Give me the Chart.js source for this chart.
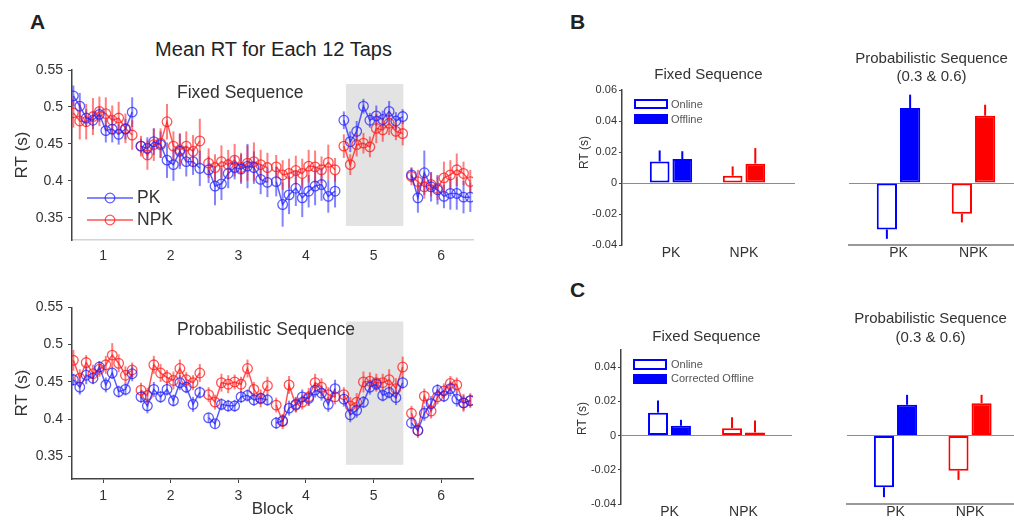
<!DOCTYPE html>
<html>
<head>
<meta charset="utf-8">
<script src="https://cdn.jsdelivr.net/npm/chart.js@4.4.1/dist/chart.umd.min.js"></script>
<style>
  body { margin: 0; background: #fff; }
  #fig { position: relative; width: 1014px; height: 522px; overflow: hidden; background: #fff;
         font-family: "Liberation Sans", Arial, Helvetica, sans-serif; color: #222; }
  .box, .lbl { position: absolute; }
  .panel { font-weight: bold; font-size: 21px; line-height: 24px; }
</style>
</head>
<body>
<div id="fig">
  <div class="lbl panel" style="left:30px;top:10px">A</div>
  <div class="lbl panel" style="left:570px;top:10px">B</div>
  <div class="lbl panel" style="left:570px;top:278px">C</div>
  <div class="lbl" style="left:0;width:547px;top:37px;text-align:center;font-size:20px;line-height:24px;color:#222">Mean RT for Each 12 Taps</div>

  <div class="box" style="left:0;top:55px;width:490px;height:220px"><canvas id="fixedLine"></canvas></div>
  <div class="box" style="left:0;top:290px;width:490px;height:232px"><canvas id="probLine"></canvas></div>
  <div class="box" style="left:560px;top:40px;width:245px;height:225px"><canvas id="fixedBarB"></canvas></div>
  <div class="box" style="left:840px;top:40px;width:174px;height:225px"><canvas id="probBarB"></canvas></div>
  <div class="box" style="left:560px;top:300px;width:245px;height:222px"><canvas id="fixedBarC"></canvas></div>
  <div class="box" style="left:840px;top:300px;width:174px;height:222px"><canvas id="probBarC"></canvas></div>
</div>
<script>
/* Mean RT per 12 taps across blocks, plus online/offline gain bars */

Chart.defaults.font.family = '"Liberation Sans", Arial, Helvetica, sans-serif';
Chart.defaults.color = '#333';
Chart.defaults.animation = false;

const blocks = [1, 2, 3, 4, 5, 6];
const tapOffsets = [-0.44, -0.345, -0.25, -0.15, -0.055, 0.04, 0.135, 0.23, 0.33, 0.43];
const rtTicks = [0.35, 0.4, 0.45, 0.5, 0.55];

// fixed sequence, 10 bins per block
const fixedPK = [
  0.515, 0.501, 0.485, 0.482, 0.490, 0.468, 0.470, 0.463, 0.470, 0.493,
  0.447, 0.444, 0.453, 0.449, 0.428, 0.422, 0.440, 0.426, 0.426, 0.417,
  0.415, 0.393, 0.396, 0.410, 0.418, 0.416, 0.420, 0.418, 0.402, 0.398,
  0.399, 0.368, 0.381, 0.390, 0.377, 0.386, 0.393, 0.395, 0.379, 0.386,
  0.482, 0.453, 0.467, 0.501, 0.482, 0.488, 0.483, 0.494, 0.481, 0.487,
  0.408, 0.377, 0.411, 0.392, 0.388, 0.379, 0.383, 0.383, 0.378, 0.378
];
const fixedPKErr = [
  0.014, 0.018, 0.012, 0.012, 0.010, 0.016, 0.018, 0.014, 0.014, 0.020,
  0.010, 0.015, 0.018, 0.018, 0.024, 0.022, 0.024, 0.020, 0.018, 0.024,
  0.018, 0.026, 0.022, 0.020, 0.016, 0.020, 0.030, 0.022, 0.020, 0.020,
  0.020, 0.030, 0.026, 0.024, 0.026, 0.022, 0.026, 0.022, 0.022, 0.022,
  0.012, 0.014, 0.014, 0.010, 0.010, 0.014, 0.012, 0.014, 0.012, 0.010,
  0.010, 0.020, 0.030, 0.020, 0.020, 0.016, 0.022, 0.022, 0.022, 0.020
];
const fixedNPK = [
  0.492, 0.481, 0.480, 0.487, 0.494, 0.491, 0.482, 0.485, 0.471, 0.462,
  0.447, 0.435, 0.449, 0.451, 0.480, 0.447, 0.442, 0.447, 0.440, 0.454,
  0.424, 0.418, 0.426, 0.422, 0.428, 0.418, 0.424, 0.426, 0.422, 0.418,
  0.419, 0.408, 0.410, 0.414, 0.410, 0.420, 0.419, 0.415, 0.425, 0.415,
  0.447, 0.422, 0.449, 0.451, 0.446, 0.471, 0.469, 0.478, 0.467, 0.464,
  0.406, 0.399, 0.392, 0.395, 0.390, 0.404, 0.408, 0.415, 0.410, 0.399
];
const fixedNPKErr = [
  0.020, 0.025, 0.024, 0.025, 0.020, 0.022, 0.020, 0.022, 0.020, 0.020,
  0.014, 0.020, 0.022, 0.020, 0.024, 0.020, 0.022, 0.020, 0.022, 0.030,
  0.020, 0.018, 0.022, 0.020, 0.022, 0.020, 0.024, 0.026, 0.020, 0.020,
  0.016, 0.020, 0.020, 0.020, 0.020, 0.022, 0.022, 0.018, 0.024, 0.016,
  0.016, 0.014, 0.016, 0.014, 0.014, 0.020, 0.016, 0.016, 0.012, 0.016,
  0.012, 0.016, 0.016, 0.016, 0.016, 0.022, 0.020, 0.022, 0.016, 0.016
];

// probabilistic sequence
const probPK = [
  0.453, 0.443, 0.459, 0.455, 0.470, 0.446, 0.462, 0.437, 0.440, 0.461,
  0.430, 0.418, 0.440, 0.430, 0.440, 0.425, 0.449, 0.443, 0.420, 0.436,
  0.402, 0.394, 0.420, 0.418, 0.418, 0.430, 0.432, 0.426, 0.428, 0.426,
  0.395, 0.398, 0.415, 0.420, 0.430, 0.428, 0.439, 0.435, 0.420, 0.441,
  0.427, 0.406, 0.412, 0.423, 0.443, 0.447, 0.432, 0.436, 0.429, 0.449,
  0.395, 0.385, 0.408, 0.421, 0.439, 0.431, 0.441, 0.427, 0.422, 0.425
];
const probPKErr = [
  0.008, 0.010, 0.012, 0.008, 0.008, 0.010, 0.008, 0.008, 0.008, 0.010,
  0.008, 0.010, 0.010, 0.008, 0.008, 0.008, 0.010, 0.008, 0.010, 0.008,
  0.006, 0.006, 0.008, 0.008, 0.008, 0.008, 0.008, 0.008, 0.008, 0.008,
  0.008, 0.008, 0.010, 0.010, 0.010, 0.010, 0.010, 0.010, 0.010, 0.012,
  0.010, 0.010, 0.010, 0.008, 0.010, 0.008, 0.008, 0.008, 0.010, 0.008,
  0.008, 0.008, 0.010, 0.010, 0.008, 0.008, 0.010, 0.010, 0.010, 0.008
];
const probNPK = [
  0.479, 0.455, 0.476, 0.461, 0.467, 0.473, 0.486, 0.475, 0.459, 0.466,
  0.439, 0.432, 0.473, 0.462, 0.456, 0.452, 0.468, 0.453, 0.449, 0.462,
  0.433, 0.423, 0.449, 0.447, 0.450, 0.447, 0.468, 0.440, 0.428, 0.445,
  0.419, 0.397, 0.446, 0.419, 0.423, 0.430, 0.449, 0.443, 0.433, 0.430,
  0.433, 0.418, 0.423, 0.450, 0.451, 0.449, 0.449, 0.453, 0.441, 0.470,
  0.408, 0.385, 0.431, 0.411, 0.430, 0.438, 0.448, 0.446, 0.422, 0.425
];
const probNPKErr = [
  0.014, 0.012, 0.010, 0.012, 0.010, 0.012, 0.016, 0.012, 0.012, 0.010,
  0.010, 0.010, 0.012, 0.012, 0.010, 0.012, 0.012, 0.010, 0.010, 0.012,
  0.010, 0.010, 0.012, 0.012, 0.010, 0.010, 0.012, 0.010, 0.012, 0.012,
  0.010, 0.010, 0.012, 0.010, 0.010, 0.012, 0.012, 0.012, 0.010, 0.010,
  0.010, 0.012, 0.012, 0.014, 0.012, 0.012, 0.012, 0.014, 0.014, 0.014,
  0.010, 0.010, 0.010, 0.010, 0.010, 0.010, 0.010, 0.010, 0.012, 0.010
];

// shaded block 5 band (x in blocks, y in s)
const shadeBand = { from: 4.59, to: 5.44, lo: 0.339, hi: 0.531 };

// bar panels: [PK, NPK]
const groups = ['PK', 'NPK'];
const groupColors = ['#0000ff', '#ff0000'];
const gainTicksB = [-0.04, -0.02, 0, 0.02, 0.04, 0.06];
const gainTicksC = [-0.04, -0.02, 0, 0.02, 0.04];

const fixedOnline = [0.0139, 0.0047];
const fixedOnlineErr = [0.0071, 0.0060];
const fixedOffline = [0.0155, 0.0125];
const fixedOfflineErr = [0.0050, 0.0100];

const probOnline = [-0.0300, -0.0198];
const probOnlineErr = [0.0060, 0.0056];
const probOffline = [0.0484, 0.0434];
const probOfflineErr = [0.0086, 0.0071];

const fixedOnlineC = [0.0134, 0.0043];
const fixedOnlineErrC = [0.0071, 0.0064];
const fixedCorrected = [0.0057, 0.0018];
const fixedCorrectedErr = [0.0035, 0.0070];

const probOnlineC = [-0.0302, -0.0205];
const probOnlineErrC = [0.0058, 0.0054];
const probCorrected = [0.0180, 0.0189];
const probCorrectedErr = [0.0058, 0.0049];

const pkLine = 'rgba(30,30,255,0.72)';
const pkBar = 'rgba(30,30,255,0.55)';
const npkLine = 'rgba(255,20,20,0.72)';
const npkBar = 'rgba(255,20,20,0.55)';

function buildPoints(vals, errs) {
  const pts = [];
  blocks.forEach((b, bi) => {
    tapOffsets.forEach((off, i) => {
      const k = bi * tapOffsets.length + i;
      pts.push({ x: b + off, y: vals[k], err: errs[k] });
    });
    pts.push({ x: b + 0.5, y: null }); // break the line between blocks
  });
  return pts;
}

const shadePlugin = {
  id: 'shade',
  beforeDatasetsDraw(chart) {
    const { ctx, scales: { x, y } } = chart;
    const l = x.getPixelForValue(shadeBand.from), r = x.getPixelForValue(shadeBand.to);
    const t = y.getPixelForValue(shadeBand.hi), b = y.getPixelForValue(shadeBand.lo);
    ctx.save();
    ctx.fillStyle = '#e3e3e3';
    ctx.fillRect(l, t, r - l, b - t);
    ctx.restore();
  }
};

const pointErrPlugin = {
  id: 'pointErr',
  beforeDatasetsDraw(chart) {
    const { ctx, scales: { y } } = chart;
    chart.data.datasets.forEach((ds, di) => {
      const meta = chart.getDatasetMeta(di);
      ctx.save();
      ctx.strokeStyle = ds.errColor;
      ctx.lineWidth = 2;
      ds.data.forEach((p, i) => {
        if (p.y == null) return;
        const px = meta.data[i].x;
        ctx.beginPath();
        ctx.moveTo(px, y.getPixelForValue(p.y - p.err));
        ctx.lineTo(px, y.getPixelForValue(p.y + p.err));
        ctx.stroke();
      });
      ctx.restore();
    });
  }
};

// one-sided error whiskers from the bar end
const barErrPlugin = {
  id: 'barErr',
  afterDatasetsDraw(chart) {
    const { ctx, scales: { y } } = chart;
    chart.data.datasets.forEach((ds, di) => {
      const meta = chart.getDatasetMeta(di);
      meta.data.forEach((bar, i) => {
        const v = ds.data[i].y;
        const tip = y.getPixelForValue(v + Math.sign(v) * ds.errors[i]);
        ctx.save();
        ctx.strokeStyle = groupColors[i];
        ctx.lineWidth = 2;
        ctx.beginPath();
        ctx.moveTo(bar.x, bar.y);
        ctx.lineTo(bar.x, tip);
        ctx.stroke();
        ctx.restore();
      });
    });
  }
};

// free text, legend swatches etc. in canvas pixels
function notesPlugin(items) {
  return {
    id: 'notes',
    afterDraw(chart) {
      const ctx = chart.ctx;
      items.forEach((n) => {
        ctx.save();
        if (n.kind === 'text') {
          ctx.font = `${n.size}px "Liberation Sans", Arial, sans-serif`;
          ctx.fillStyle = n.color || '#333';
          ctx.textAlign = n.align || 'left';
          ctx.textBaseline = 'middle';
          ctx.translate(n.x, n.y);
          if (n.rotate) ctx.rotate(n.rotate);
          ctx.fillText(n.text, 0, 0);
        } else if (n.kind === 'series') {
          ctx.strokeStyle = n.color;
          ctx.lineWidth = 1.5;
          ctx.beginPath();
          ctx.moveTo(n.x, n.y);
          ctx.lineTo(n.x + 46, n.y);
          ctx.stroke();
          ctx.lineWidth = 1.3;
          ctx.beginPath();
          ctx.arc(n.x + 23, n.y, 4.8, 0, Math.PI * 2);
          ctx.stroke();
        } else if (n.kind === 'box') {
          ctx.lineWidth = 2;
          ctx.strokeStyle = n.color;
          ctx.fillStyle = n.fill;
          ctx.fillRect(n.x, n.y, n.w, n.h);
          ctx.strokeRect(n.x + 1, n.y + 1, n.w - 2, n.h - 2);
        }
        ctx.restore();
      });
    }
  };
}

function series(label, vals, errs, line, err) {
  return {
    label,
    data: buildPoints(vals, errs),
    errColor: err,
    borderColor: line,
    borderWidth: 1.5,
    pointRadius: 4.8,
    pointBorderWidth: 1.3,
    pointBorderColor: line,
    pointBackgroundColor: 'rgba(255,255,255,0)',
    spanGaps: false,
    tension: 0
  };
}

function lineChart(id, cfg) {
  return new Chart(document.getElementById(id), {
    type: 'line',
    data: {
      datasets: [
        series('PK', cfg.pk, cfg.pkErr, pkLine, pkBar),
        series('NPK', cfg.npk, cfg.npkErr, npkLine, npkBar)
      ]
    },
    options: {
      responsive: true,
      maintainAspectRatio: false,
      layout: { padding: { top: cfg.top, right: 17, left: 0, bottom: 0 } },
      plugins: { legend: { display: false }, tooltip: { enabled: false } },
      scales: {
        x: {
          type: 'linear', min: 0.54, max: 6.47,
          afterBuildTicks: (s) => { s.ticks = blocks.map((v) => ({ value: v })); },
          ticks: { font: { size: 14 }, padding: cfg.xPad, color: '#333' },
          grid: { drawOnChartArea: false, drawTicks: cfg.xTicks, tickLength: 4, color: cfg.xColor },
          border: { color: cfg.xColor, width: 1.5 },
          title: { display: !!cfg.xTitle, text: cfg.xTitle, font: { size: 17 }, color: '#333', padding: { top: 0, bottom: 2 } },
          afterFit: (s) => { s.height = cfg.xh; }
        },
        y: {
          min: 0.32, max: 0.55,
          afterBuildTicks: (s) => { s.ticks = rtTicks.map((v) => ({ value: v })); },
          ticks: { font: { size: 14 }, padding: 5, color: '#333', callback: (v) => String(v) },
          grid: { drawOnChartArea: false, tickLength: 4, color: '#444' },
          border: { color: '#444', width: 1.5 },
          title: { display: true, text: 'RT (s)', font: { size: 17 }, color: '#333', padding: { top: 12, bottom: 0 } },
          afterFit: (s) => { s.width = 72; }
        }
      }
    },
    plugins: [shadePlugin, pointErrPlugin, notesPlugin(cfg.notes)]
  });
}

function barChart(id, cfg) {
  const fixed = cfg.kind === 'fixed';
  return new Chart(document.getElementById(id), {
    type: 'bar',
    data: {
      datasets: [
        {
          label: cfg.names[0],
          data: cfg.online.map((v, i) => ({ x: i, y: v })),
          errors: cfg.onlineErr,
          backgroundColor: '#ffffff',
          borderColor: groupColors,
          borderWidth: 2,
          borderSkipped: false
        },
        {
          label: cfg.names[1],
          data: cfg.offline.map((v, i) => ({ x: i, y: v })),
          errors: cfg.offlineErr,
          backgroundColor: groupColors,
          borderColor: groupColors,
          borderWidth: 2,
          borderSkipped: false
        }
      ]
    },
    options: {
      responsive: true,
      maintainAspectRatio: false,
      categoryPercentage: 0.62,
      barPercentage: 0.87,
      layout: { padding: cfg.pad },
      plugins: {
        legend: { display: false },
        tooltip: { enabled: false },
        title: {
          display: true, text: cfg.title, fullSize: false, color: '#333',
          font: { size: 15, weight: 'normal', lineHeight: cfg.titleLH }, padding: cfg.titlePad
        }
      },
      scales: {
        x: {
          type: 'linear', min: cfg.xMin, max: cfg.xMax, offset: false,
          afterBuildTicks: (s) => { s.ticks = groups.map((g, i) => ({ value: i })); },
          ticks: { font: { size: 14 }, padding: 0, color: '#333', callback: (v) => groups[v] },
          grid: { display: false, drawTicks: false, offset: false },
          border: fixed ? { display: false } : { display: true, color: '#999', width: 2 },
          afterFit: (s) => { s.height = cfg.xh; }
        },
        y: {
          min: -0.04, max: cfg.yMax,
          afterBuildTicks: (s) => { s.ticks = cfg.yTicks.map((v) => ({ value: v })); },
          ticks: {
            display: fixed, font: { size: 11 }, padding: 2, color: '#333',
            callback: (v) => (v === 0 ? '0' : v.toFixed(2))
          },
          grid: {
            color: (c) => (c.tick && c.tick.value === 0 ? '#8c8c8c' : 'rgba(0,0,0,0)'),
            tickColor: '#444', tickLength: 3, drawTicks: fixed
          },
          border: fixed ? { color: '#444', width: 1.5 } : { display: false },
          afterFit: (s) => { s.width = cfg.yw; }
        }
      }
    },
    plugins: [barErrPlugin, notesPlugin(cfg.notes || [])]
  });
}

lineChart('fixedLine', {
  pk: fixedPK, pkErr: fixedPKErr, npk: fixedNPK, npkErr: fixedNPKErr,
  top: 15, xh: 35, xPad: 8, xTicks: false, xColor: '#d4d4d4', xTitle: '',
  notes: [
    { kind: 'text', text: 'Fixed Sequence', x: 177, y: 38, size: 17.5 },
    { kind: 'series', x: 87, y: 143, color: pkLine },
    { kind: 'text', text: 'PK', x: 137, y: 143, size: 17.5 },
    { kind: 'series', x: 87, y: 165, color: npkLine },
    { kind: 'text', text: 'NPK', x: 137, y: 165, size: 17.5 }
  ]
});

lineChart('probLine', {
  pk: probPK, pkErr: probPKErr, npk: probNPK, npkErr: probNPKErr,
  top: 17.3, xh: 43, xPad: 5, xTicks: true, xColor: '#444', xTitle: 'Block',
  notes: [
    { kind: 'text', text: 'Probabilistic Sequence', x: 177, y: 40, size: 17.5 }
  ]
});

barChart('fixedBarB', {
  kind: 'fixed', title: 'Fixed Sequence', titleLH: 1.2, titlePad: { top: 26, bottom: 6 },
  names: ['Online', 'Offline'],
  online: fixedOnline, onlineErr: fixedOnlineErr, offline: fixedOffline, offlineErr: fixedOfflineErr,
  yMax: 0.06, yTicks: gainTicksB, yw: 62, xh: 20, xMin: -0.671, xMax: 1.699,
  pad: { left: 0, right: 10, top: 0, bottom: 0 },
  notes: [
    { kind: 'box', x: 74, y: 59, w: 34, h: 10, color: '#0000ff', fill: '#ffffff' },
    { kind: 'box', x: 74, y: 74, w: 34, h: 10, color: '#0000ff', fill: '#0000ff' },
    { kind: 'text', text: 'Online', x: 111, y: 65, size: 11, color: '#555' },
    { kind: 'text', text: 'Offline', x: 111, y: 79.5, size: 11, color: '#555' },
    { kind: 'text', text: 'RT (s)', x: 25, y: 112.5, size: 12, align: 'center', rotate: -Math.PI / 2 }
  ]
});

barChart('probBarB', {
  kind: 'prob', title: ['Probabilistic Sequence', '(0.3 & 0.6)'], titleLH: 1.2, titlePad: { top: 10, bottom: 4 },
  names: ['Online', 'Offline'],
  online: probOnline, onlineErr: probOnlineErr, offline: probOffline, offlineErr: probOfflineErr,
  yMax: 0.06, yTicks: gainTicksB, yw: 0, xh: 20, xMin: -0.66, xMax: 1.54,
  pad: { left: 9, right: 0, top: 0, bottom: 0 }
});

barChart('fixedBarC', {
  kind: 'fixed', title: 'Fixed Sequence', titleLH: 1.2, titlePad: { top: 28, bottom: 4 },
  names: ['Online', 'Corrected Offline'],
  online: fixedOnlineC, onlineErr: fixedOnlineErrC, offline: fixedCorrected, offlineErr: fixedCorrectedErr,
  yMax: 0.05, yTicks: gainTicksC, yw: 61, xh: 18, xMin: -0.655, xMax: 1.655,
  pad: { left: 0, right: 13, top: 0, bottom: 0 },
  notes: [
    { kind: 'box', x: 73, y: 59, w: 34, h: 11, color: '#0000ff', fill: '#ffffff' },
    { kind: 'box', x: 73, y: 74, w: 34, h: 10, color: '#0000ff', fill: '#0000ff' },
    { kind: 'text', text: 'Online', x: 111, y: 65, size: 11, color: '#555' },
    { kind: 'text', text: 'Corrected Offline', x: 111, y: 79, size: 11, color: '#555' },
    { kind: 'text', text: 'RT (s)', x: 23, y: 118.5, size: 12, align: 'center', rotate: -Math.PI / 2 }
  ]
});

barChart('probBarC', {
  kind: 'prob', title: ['Probabilistic Sequence', '(0.3 & 0.6)'], titleLH: 1.267, titlePad: { top: 9.5, bottom: 2.5 },
  names: ['Online', 'Corrected Offline'],
  online: probOnlineC, onlineErr: probOnlineErrC, offline: probCorrected, offlineErr: probCorrectedErr,
  yMax: 0.05, yTicks: gainTicksC, yw: 0, xh: 18, xMin: -0.651, xMax: 1.59,
  pad: { left: 7, right: 0, top: 0, bottom: 0 }
});
</script>
</body>
</html>
